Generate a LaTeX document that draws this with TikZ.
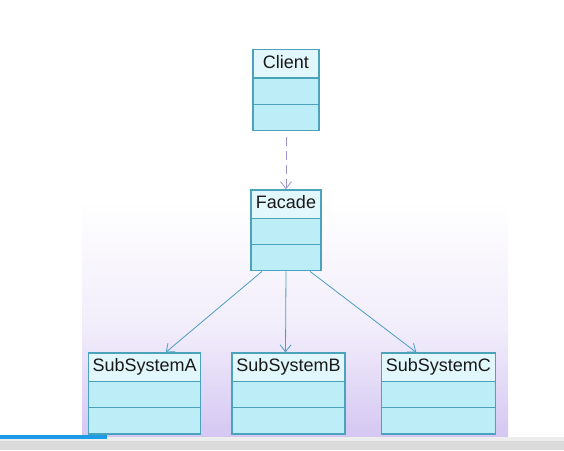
\documentclass[tikz,border=0pt]{standalone}
\usepackage{fontspec}
\setmainfont{Liberation Sans}
\usetikzlibrary{positioning,shapes.multipart,arrows.meta}
\definecolor{boxline}{HTML}{4AA3BA}
\definecolor{headfill}{HTML}{E2F7FB}
\definecolor{partfill}{HTML}{BDEDF6}
\definecolor{linkline}{HTML}{4A9EC2}
\definecolor{depline}{HTML}{9A92C8}
\definecolor{lavender}{HTML}{CDBDF0}
\definecolor{barblue}{HTML}{1E9BE8}
\tikzset{every node/.style={align=center}, >={Straight Barb[length=7pt,width=11pt]},
  font=\fontsize{18}{21}\selectfont,
  umlclass/.style={rectangle split, rectangle split parts=3, draw=boxline, line width=1.3pt,
    rectangle split part fill={headfill,partfill,partfill}, text=black!90,
    inner xsep=4pt, inner ysep=4pt, text height=14pt, text depth=5pt,
    rectangle split empty part height=12pt, rectangle split empty part depth=5pt}}

\begin{document}
\begin{tikzpicture}[x=1pt,y=-1pt]
            \useasboundingbox (0,0) rectangle (564,450);
            % backdrop of the screenshot
            \shade[top color=white, bottom color=lavender!28] (82,200) rectangle (508,330);
            \shade[top color=lavender!28, bottom color=lavender!85] (82,330) rectangle (508,437);
            \fill[black!14] (0,437) rectangle (564,450);
            \fill[black!7] (0,437) rectangle (564,441);
            \fill[barblue] (0,435) rectangle (107,439);
            \node[umlclass, minimum width=66pt, anchor=north] (client) at (286,49) {Client \nodepart{second}\nodepart{third}};
            \node[umlclass, minimum width=70pt] (facade) [below=58pt of client] {Facade \nodepart{second}\nodepart{third}};
            \node[umlclass, minimum width=113pt] (subb) [below=81pt of facade, xshift=2.5pt] {SubSystemB \nodepart{second}\nodepart{third}};
            \node[umlclass, minimum width=112pt] (suba) [left=30pt of subb] {SubSystemA \nodepart{second}\nodepart{third}};
            \node[umlclass, minimum width=114pt] (subc) [right=35pt of subb] {SubSystemC \nodepart{second}\nodepart{third}};
            \path[->, color=depline, line width=0.8pt, dash pattern=on 9pt off 5pt] ([yshift=-6pt]client.south) edge (facade);
            \path[->, color=linkline, line width=0.8pt] ([xshift=-24pt]facade.south) edge ([xshift=21pt]suba.north)
                (facade.south) edge ([xshift=-3pt]subb.north)
                ([xshift=24pt]facade.south) edge ([xshift=-22pt]subc.north);
        \end{tikzpicture}
\end{document}
